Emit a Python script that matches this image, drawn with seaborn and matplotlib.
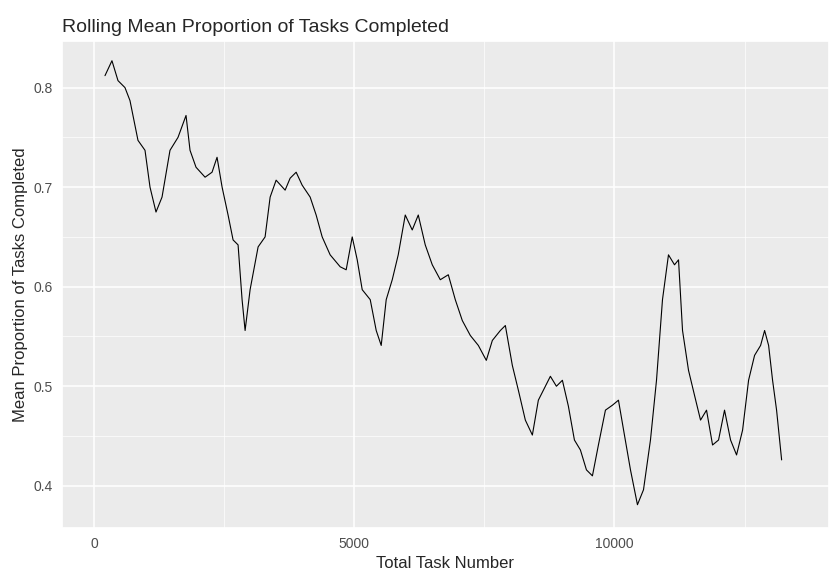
import numpy as np
import matplotlib.pyplot as plt
import seaborn as sns
import pandas as pd

# valores (aproximados)
task_number = [212, 346, 462, 596, 692, 846, 981, 1077, 1192, 1308, 1461, 1615, 1769, 1846, 1961,
               2135, 2269, 2365, 2462, 2577, 2673, 2769, 2846, 2904, 3000, 3154, 3288, 3385, 3500,
               3673, 3769, 3885, 4000, 4154, 4269, 4385, 4538, 4731, 4846, 4962, 5058, 5154, 5308,
               5423, 5519, 5615, 5731, 5846, 5981, 6115, 6231, 6365, 6500, 6654, 6808, 6942, 7077,
               7231, 7385, 7538, 7654, 7808, 7904, 8038, 8154, 8288, 8423, 8538, 8673, 8769, 8885,
               9000, 9115, 9231, 9346, 9462, 9577, 9692, 9827, 9962, 10077, 10192, 10308, 10442,
               10558, 10692, 10808, 10923, 11038, 11154, 11231, 11308, 11423, 11538, 11654, 11769,
               11885, 12000, 12115, 12231, 12346, 12462, 12577, 12692, 12808, 12885, 12962, 13038,
               13115, 13212]
mean_prop = [0.812, 0.827, 0.807, 0.800, 0.787, 0.747, 0.737, 0.700, 0.675, 0.690, 0.737, 0.750,
             0.772, 0.737, 0.720, 0.710, 0.715, 0.730, 0.700, 0.672, 0.647, 0.642, 0.587, 0.556,
             0.597, 0.640, 0.650, 0.690, 0.707, 0.697, 0.709, 0.715, 0.702, 0.690, 0.672, 0.650,
             0.632, 0.620, 0.617, 0.650, 0.627, 0.597, 0.587, 0.556, 0.541, 0.587, 0.607, 0.632,
             0.672, 0.657, 0.672, 0.642, 0.622, 0.607, 0.612, 0.587, 0.566, 0.551, 0.541, 0.526,
             0.546, 0.556, 0.561, 0.521, 0.496, 0.466, 0.451, 0.486, 0.500, 0.510, 0.500, 0.506,
             0.480, 0.446, 0.436, 0.416, 0.410, 0.441, 0.476, 0.481, 0.486, 0.451, 0.416, 0.381,
             0.396, 0.446, 0.506, 0.587, 0.632, 0.622, 0.627, 0.556, 0.516, 0.491, 0.466, 0.476,
             0.441, 0.446, 0.476, 0.446, 0.431, 0.456, 0.506, 0.531, 0.541, 0.556, 0.541, 0.506,
             0.476, 0.426]

df = pd.DataFrame({'task': task_number, 'mean': mean_prop})

sns.set_theme(style='darkgrid', rc={'axes.facecolor': '#EBEBEB', 'grid.color': 'white'})
plt.rcParams['font.family'] = ['Liberation Sans', 'DejaVu Sans']

fig, ax = plt.subplots(figsize=(8.37, 5.83), dpi=100)
sns.lineplot(data=df, x='task', y='mean', color='black', linewidth=0.8, ax=ax)

ax.set_xlim(-615, 14115)
ax.set_ylim(0.358, 0.847)
ax.set_xticks([0, 5000, 10000])
ax.set_xticklabels(['0', '5000', '10000'])
ax.set_yticks([0.4, 0.5, 0.6, 0.7, 0.8])
ax.set_xticks([2500, 7500, 12500], minor=True)
ax.set_yticks([0.45, 0.55, 0.65, 0.75], minor=True)
ax.grid(which='major', color='white', linewidth=1.1)
ax.grid(which='minor', color='white', linewidth=0.5)
ax.tick_params(which='minor', length=0)
ax.tick_params(which='major', length=3, color='#333333', labelsize=10, labelcolor='#4D4D4D')
ax.set_xlabel('Total Task Number', fontsize=12)
ax.set_ylabel('Mean Proportion of Tasks Completed', fontsize=12)
ax.set_title('Rolling Mean Proportion of Tasks Completed', loc='left', fontsize=14)

fig.subplots_adjust(left=0.074, right=0.99, top=0.93, bottom=0.095)
fig.savefig('out.png', dpi=100)
